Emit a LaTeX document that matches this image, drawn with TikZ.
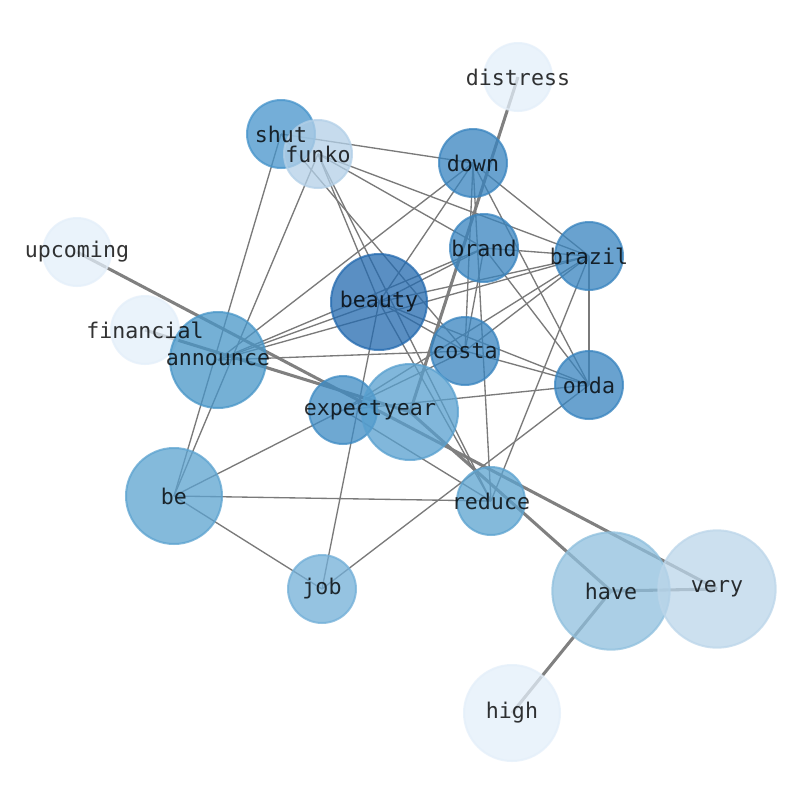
\documentclass[tikz,border=0pt]{standalone}
\usepackage{fontspec}
\setmonofont{DejaVu Sans Mono}
\definecolor{beautyblue}{RGB}{36,106,175}
\definecolor{darkblue}{RGB}{56,132,191}
\definecolor{expectblue}{RGB}{62,139,196}
\definecolor{shutblue}{RGB}{70,148,203}
\definecolor{midblue}{RGB}{72,150,200}
\definecolor{yearblue}{RGB}{88,160,207}
\definecolor{beblue}{RGB}{92,163,208}
\definecolor{jobblue}{RGB}{114,175,216}
\definecolor{haveblue}{RGB}{143,192,222}
\definecolor{funkoblue}{RGB}{179,208,232}
\definecolor{veryblue}{RGB}{188,214,234}
\definecolor{paleblue}{RGB}{228,239,250}
\pgfdeclarelayer{links}
\pgfdeclarelayer{words}
\pgfsetlayers{links,main,words}
\begin{document}
\begin{tikzpicture}[x=0.75pt,y=-0.75pt,
		term/.style = {shape=circle, inner sep=0pt, minimum size=#1,
			fill opacity=0.75, draw opacity=0.75, line width=1.5pt},
		tone/.style = {fill=#1, draw=#1},
		word/.style = {inner sep=0pt, text=black, text opacity=0.8,
			font=\ttfamily\fontsize{16.2pt}{16.2pt}\selectfont},
		link/.style = {draw=black!52, line width=1pt},
		strong/.style = {draw=black!50, line width=2.3pt}]
	\useasboundingbox (0,0) rectangle (794,790);
	% circles
	\node[term=51pt, tone=paleblue] (distress) at (518,77) {};
	\node[term=51pt, tone=shutblue] (shut) at (281,134) {};
	\node[term=51pt, tone=funkoblue] (funko) at (318,154) {};
	\node[term=51pt, tone=darkblue] (down) at (473,163) {};
	\node[term=51pt, tone=paleblue] (upcoming) at (77,252) {};
	\node[term=51pt, tone=darkblue] (brand) at (484,248) {};
	\node[term=51pt, tone=darkblue] (brazil) at (589,256) {};
	\node[term=72pt, tone=beautyblue] (beauty) at (379,302) {};
	\node[term=51pt, tone=paleblue] (financial) at (145,330) {};
	\node[term=72pt, tone=midblue] (announce) at (218,360) {};
	\node[term=51pt, tone=darkblue] (costa) at (465,351) {};
	\node[term=51pt, tone=darkblue] (onda) at (589,385) {};
	\node[term=51pt, tone=expectblue] (expect) at (343,410) {};
	\node[term=72pt, tone=yearblue] (year) at (410,412) {};
	\node[term=72pt, tone=beblue] (be) at (174,496) {};
	\node[term=51pt, tone=beblue] (reduce) at (491,501) {};
	\node[term=51pt, tone=jobblue] (job) at (322,589) {};
	\node[term=88pt, tone=haveblue] (have) at (611,591) {};
	\node[term=88pt, tone=veryblue] (very) at (717,589) {};
	\node[term=72pt, tone=paleblue] (high) at (512,713) {};
	% connectors, behind the circles
	\begin{pgfonlayer}{links}
		\fill[white] (0,0) rectangle (794,790);
		\draw[strong] (distress.center) -- (year.center);
		\draw[strong] (upcoming.center) -- (very.center);
		\draw[strong] (financial.center) -- (year.center);
		\draw[strong] (year.center) -- (have.center);
		\draw[strong] (have.center) -- (very.center);
		\draw[strong] (have.center) -- (high.center);
		\draw[link] (shut.center) -- (down.center);
		\draw[link] (shut.center) -- (be.center);
		\draw[link] (shut.center) -- (costa.center);
		\draw[link] (funko.center) -- (be.center);
		\draw[link] (funko.center) -- (brand.center);
		\draw[link] (funko.center) -- (brazil.center);
		\draw[link] (funko.center) -- (beauty.center);
		\draw[link] (funko.center) -- (reduce.center);
		\draw[link] (down.center) -- (announce.center);
		\draw[link] (down.center) -- (beauty.center);
		\draw[link] (down.center) -- (costa.center);
		\draw[link] (down.center) -- (reduce.center);
		\draw[link] (down.center) -- (onda.center);
		\draw[link] (down.center) -- (brazil.center);
		\draw[link] (brand.center) -- (announce.center);
		\draw[link] (brand.center) -- (beauty.center);
		\draw[link] (brand.center) -- (brazil.center);
		\draw[link] (brand.center) -- (costa.center);
		\draw[link] (brand.center) -- (onda.center);
		\draw[link] (brazil.center) -- (announce.center);
		\draw[link] (brazil.center) -- (beauty.center);
		\draw[link] (brazil.center) -- (costa.center);
		\draw[link] (brazil.center) -- (onda.center);
		\draw[link] (brazil.center) -- (reduce.center);
		\draw[link] (brazil.center) -- (expect.center);
		\draw[link] (beauty.center) -- (announce.center);
		\draw[link] (beauty.center) -- (costa.center);
		\draw[link] (beauty.center) -- (onda.center);
		\draw[link] (beauty.center) -- (reduce.center);
		\draw[link] (beauty.center) -- (job.center);
		\draw[link] (announce.center) -- (costa.center);
		\draw[link] (costa.center) -- (onda.center);
		\draw[link] (expect.center) -- (costa.center);
		\draw[link] (expect.center) -- (onda.center);
		\draw[link] (expect.center) -- (reduce.center);
		\draw[link] (expect.center) -- (be.center);
		\draw[link] (be.center) -- (reduce.center);
		\draw[link] (be.center) -- (job.center);
		\draw[link] (job.center) -- (onda.center);
	\end{pgfonlayer}
	% labels, above everything
	\begin{pgfonlayer}{words}
		\node[word] (distress-w) at (distress) {distress};
		\node[word] (shut-w) at (shut) {shut};
		\node[word] (funko-w) at (funko) {funko};
		\node[word] (down-w) at (down) {down};
		\node[word] (upcoming-w) at (upcoming) {upcoming};
		\node[word] (brand-w) at (brand) {brand};
		\node[word] (brazil-w) at (brazil) {brazil};
		\node[word] (beauty-w) at (beauty) {beauty};
		\node[word] (financial-w) at (financial) {financial};
		\node[word] (announce-w) at (announce) {announce};
		\node[word] (costa-w) at (costa) {costa};
		\node[word] (onda-w) at (onda) {onda};
		\node[word] (expect-w) at (expect) {expect};
		\node[word] (year-w) at (year) {year};
		\node[word] (be-w) at (be) {be};
		\node[word] (reduce-w) at (reduce) {reduce};
		\node[word] (job-w) at (job) {job};
		\node[word] (have-w) at (have) {have};
		\node[word] (very-w) at (very) {very};
		\node[word] (high-w) at (high) {high};
	\end{pgfonlayer}
\end{tikzpicture}
\end{document}
